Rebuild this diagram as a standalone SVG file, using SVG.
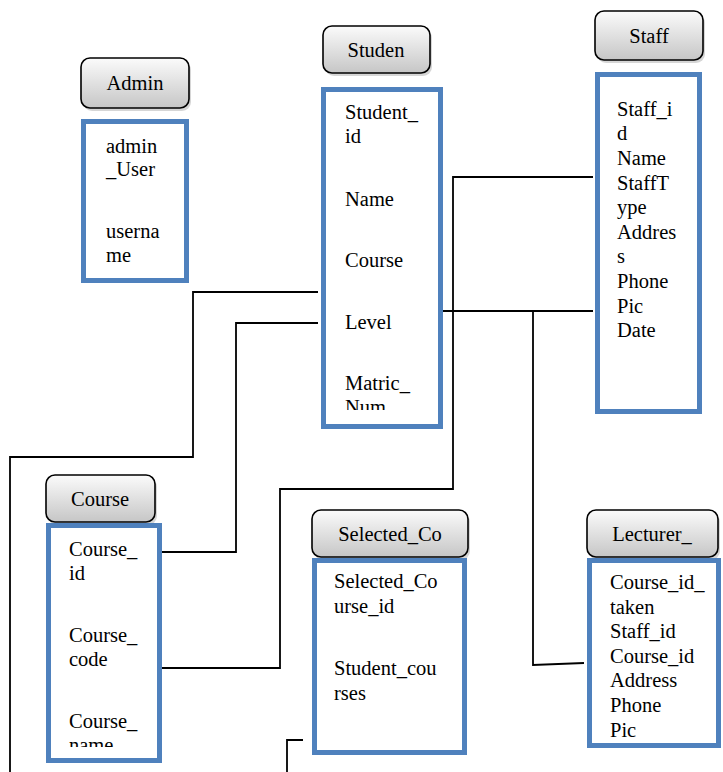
<svg xmlns="http://www.w3.org/2000/svg" width="723" height="772" viewBox="0 0 723 772" font-family="'Liberation Serif', 'Times New Roman', serif">
<style>
.hdr{fill:url(#g);stroke:#000;stroke-width:1.6}
.shd{fill:#bbb;opacity:0.6}
.box{fill:#fff;stroke:#4f81bd;stroke-width:5}
text{font-family:'Liberation Serif', 'Noto Serif', 'DejaVu Serif', serif;font-size:20.5px;fill:#000}
.c{text-anchor:middle}
.ln{fill:none;stroke:#000;stroke-width:1.8}
</style>
<defs>
<linearGradient id="g" x1="0" y1="0" x2="0" y2="1">
<stop offset="0" stop-color="#fbfbfb"/>
<stop offset="1" stop-color="#c6c6c6"/>
</linearGradient>
<clipPath id="cs"><rect x="321" y="87" width="122" height="323"/></clipPath>
<clipPath id="cc"><rect x="46" y="523" width="116" height="224"/></clipPath>
</defs>
<rect width="723" height="772" fill="#fff"/>
<g id="connectors">
<polyline class="ln" points="318,292 193,292 193,457 10,457 10,772"/>
<polyline class="ln" points="318,323 236,323 236,552 155,552"/>
<polyline class="ln" points="148,668 280,668 280,489 453,489 453,177 593,177"/>
<polyline class="ln" points="443,311 593,311"/>
<polyline class="ln" points="533,311 533,665 584,663"/>
<polyline class="ln" points="303,740 287,740 287,772"/>
</g>
<g id="admin">
<rect class="shd" x="83" y="61" width="108" height="50" rx="9"/>
<rect class="hdr" x="81" y="58" width="108" height="50" rx="9"/>
<text class="c" x="135" y="90">Admin</text>
<rect class="box" x="83.5" y="121.5" width="103" height="159"/>
<text x="106" y="153">admin</text>
<text x="106" y="176">_User</text>
<text x="106" y="238">userna</text>
<text x="106" y="262">me</text>
</g>
<g id="student">
<rect class="shd" x="325" y="29" width="107" height="47" rx="9"/>
<rect class="hdr" x="323" y="26" width="107" height="47" rx="9"/>
<text class="c" x="376" y="57">Studen</text>
<rect class="box" x="323.5" y="89.5" width="117" height="337"/>
<g clip-path="url(#cs)">
<text x="345" y="119">Student_</text>
<text x="345" y="143">id</text>
<text x="345" y="206">Name</text>
<text x="345" y="267">Course</text>
<text x="345" y="329">Level</text>
<text x="345" y="390">Matric_</text>
<text x="345" y="414">Num</text>
</g>
</g>
<g id="staff">
<rect class="shd" x="597" y="14" width="108" height="49" rx="9"/>
<rect class="hdr" x="595" y="11" width="108" height="49" rx="9"/>
<text class="c" x="649" y="43">Staff</text>
<rect class="box" x="597.5" y="74.5" width="102" height="337"/>
<text x="617" y="116">Staff_i</text>
<text x="617" y="140">d</text>
<text x="617" y="165">Name</text>
<text x="617" y="190">StaffT</text>
<text x="617" y="214">ype</text>
<text x="617" y="239">Addres</text>
<text x="617" y="263">s</text>
<text x="617" y="288">Phone</text>
<text x="617" y="313">Pic</text>
<text x="617" y="337">Date</text>
</g>
<g id="course">
<rect class="shd" x="48" y="478" width="109" height="47" rx="9"/>
<rect class="hdr" x="46" y="475" width="109" height="47" rx="9"/>
<text class="c" x="100" y="506">Course</text>
<rect class="box" x="48.5" y="525.5" width="111" height="235"/>
<g clip-path="url(#cc)">
<text x="69" y="556">Course_</text>
<text x="69" y="580">id</text>
<text x="69" y="642">Course_</text>
<text x="69" y="666">code</text>
<text x="69" y="728">Course_</text>
<text x="69" y="752">name</text>
</g>
</g>
<g id="selected_course">
<rect class="shd" x="314" y="513" width="156" height="47" rx="9"/>
<rect class="hdr" x="312" y="510" width="156" height="47" rx="9"/>
<text class="c" x="390" y="541">Selected_Co</text>
<rect class="box" x="314.5" y="560.5" width="150" height="192"/>
<text x="334" y="588">Selected_Co</text>
<text x="334" y="613">urse_id</text>
<text x="334" y="675">Student_cou</text>
<text x="334" y="700">rses</text>
</g>
<g id="lecturer">
<rect class="shd" x="589" y="513" width="131" height="47" rx="9"/>
<rect class="hdr" x="587" y="510" width="131" height="47" rx="9"/>
<text class="c" x="652" y="541">Lecturer_</text>
<rect class="box" x="589.5" y="560.5" width="129" height="185"/>
<text x="610" y="589">Course_id_</text>
<text x="610" y="614">taken</text>
<text x="610" y="638">Staff_id</text>
<text x="610" y="663">Course_id</text>
<text x="610" y="687">Address</text>
<text x="610" y="712">Phone</text>
<text x="610" y="737">Pic</text>
</g>
</svg>
